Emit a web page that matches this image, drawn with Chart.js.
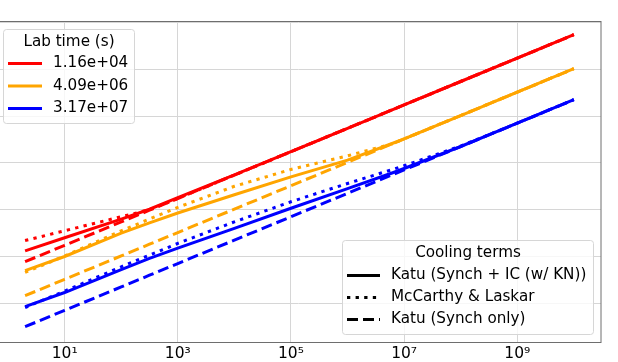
<!DOCTYPE html>
<html>
<head>
<meta charset="utf-8">
<script src="https://cdn.jsdelivr.net/npm/chart.js@4/dist/chart.umd.min.js"></script>
<style>
  html, body { margin: 0; padding: 0; background: #fff; overflow: hidden; width: 618px; height: 362px; }
  #wrap { position: absolute; left: -20px; top: 0; width: 640px; height: 362px; }
</style>
</head>
<body>
<div id="wrap"><canvas id="chart" width="640" height="362"></canvas></div>
<script>
const energies = [2, 10, 100, 316, 1e3, 1e4, 1e5, 1e6, 6.3e6, 1e7, 1e8, 1e9, 1e10];

// lab time 1.16e+04 s (red)
const katuIC_1   = [131.8, 251.2, 631, 1023, 1820, 5559, 17340, 54830, 137700, 173400, 548300, 1734000, 5483000];
const mcCarthy_1 = [218.8, 354.8, 707.9, 1000, 1738, 5483, 17340, 54830, 137700, 173400, 548300, 1734000, 5483000];
const synch_1    = [77.4, 173.4, 548, 975, 1734, 5483, 17340, 54830, 137700, 173400, 548300, 1734000, 5483000];

// lab time 4.09e+06 s (orange)
const katuIC_2   = [50.1, 100, 316.2, 524.8, 851.1, 2089, 5012, 11480, 26300, 32510, 102800, 325100, 1028000];
const mcCarthy_2 = [45.7, 102.3, 354.8, 631, 1122, 3162, 7244, 14130, 25700, 32510, 102800, 325100, 1028000];
const synch_2    = [14.52, 32.51, 102.8, 182.8, 325.1, 1028, 3251, 10280, 25820, 32510, 102800, 325100, 1028000];

// lab time 3.17e+07 s (blue)
const katuIC_3   = [8.51, 16.98, 52.48, 91.2, 151.4, 398.1, 1072, 2818, 6166, 7586, 22390, 70710, 223600];
const mcCarthy_3 = [8.13, 18.2, 60.26, 107.2, 190.5, 549.5, 1479, 3631, 7244, 8710, 22910, 70710, 223600];
const synch_3    = [3.162, 7.07, 22.36, 39.77, 70.7, 223.6, 707.1, 2236, 5617, 7071, 22360, 70710, 223600];

const labTimes = ['1.16e+04', '4.09e+06', '3.17e+07'];
const coolingTerms = ['Katu (Synch + IC (w/ KN))', 'McCarthy & Laskar', 'Katu (Synch only)'];
const xTicks = [10, 1e3, 1e5, 1e7, 1e9];
const xTickLabels = ['10\u00b9', '10\u00b3', '10\u2075', '10\u2077', '10\u2079'];
const yTicks = [10, 100, 1e3, 1e4, 1e5, 1e6, 1e7];

const colors = ['#ff0000', '#ffa500', '#0000ff'];
const styles = [[], [3.3, 5.3], [11, 5]];
const FONT = "'DejaVu Sans', sans-serif";
const SHIFT = 20;

function series(values, color, dash) {
  return {
    data: energies.map((x, i) => ({ x: x, y: values[i] })),
    borderColor: color,
    borderWidth: 3,
    borderDash: dash,
    pointRadius: 0,
    fill: false,
    tension: 0
  };
}

const groups = [
  [katuIC_1, mcCarthy_1, synch_1],
  [katuIC_2, mcCarthy_2, synch_2],
  [katuIC_3, mcCarthy_3, synch_3]
];
const datasets = [];
groups.forEach((g, t) => g.forEach((vals, k) => datasets.push(series(vals, colors[t], styles[k]))));

function roundRect(ctx, x, y, w, h, r) {
  ctx.beginPath();
  ctx.moveTo(x + r, y);
  ctx.arcTo(x + w, y, x + w, y + h, r);
  ctx.arcTo(x + w, y + h, x, y + h, r);
  ctx.arcTo(x, y + h, x, y, r);
  ctx.arcTo(x, y, x + w, y, r);
  ctx.closePath();
}

function drawLegend(ctx, box, title, rows) {
  ctx.save();
  roundRect(ctx, box.x + SHIFT, box.y, box.w, box.h, 3);
  ctx.fillStyle = 'rgba(255,255,255,0.8)';
  ctx.fill();
  ctx.strokeStyle = '#d6d6d6';
  ctx.lineWidth = 1;
  ctx.stroke();
  ctx.font = '15.2px ' + FONT;
  ctx.fillStyle = '#000';
  ctx.textBaseline = 'middle';
  ctx.textAlign = 'center';
  ctx.fillText(title, box.x + SHIFT + box.w / 2, box.titleY);
  ctx.textAlign = 'left';
  rows.forEach((r, i) => {
    const y = box.rowY[i];
    ctx.beginPath();
    ctx.setLineDash(r.dash);
    ctx.strokeStyle = r.color;
    ctx.lineWidth = 3;
    ctx.lineCap = 'butt';
    ctx.moveTo(box.lineX0 + SHIFT, y);
    ctx.lineTo(box.lineX1 + SHIFT, y);
    ctx.stroke();
    ctx.setLineDash([]);
    ctx.fillStyle = '#000';
    ctx.fillText(r.label, box.textX + SHIFT, y);
  });
  ctx.restore();
}

const extras = {
  id: 'extras',
  afterDatasetsDraw(chart) {
    const ctx = chart.ctx, a = chart.chartArea;
    ctx.save();
    ctx.strokeStyle = '#6e6e6e';
    ctx.lineWidth = 1;
    ctx.strokeRect(a.left, a.top, a.right - a.left, a.bottom - a.top);
    ctx.restore();

    drawLegend(ctx,
      { x: 3.5, y: 29.5, w: 131, h: 94, titleY: 42, rowY: [63.5, 86, 108.5], lineX0: 8, lineX1: 42, textX: 53 },
      'Lab time (s)',
      labTimes.map((l, i) => ({ label: l, color: colors[i], dash: [] })));

    drawLegend(ctx,
      { x: 342.5, y: 240.5, w: 251, h: 94, titleY: 253, rowY: [275.5, 297.5, 319.5], lineX0: 347, lineX1: 380, textX: 391 },
      'Cooling terms',
      coolingTerms.map((l, i) => ({ label: l, color: '#000', dash: styles[i] })));
  }
};

new Chart(document.getElementById('chart').getContext('2d'), {
  type: 'line',
  data: { datasets: datasets },
  plugins: [extras],
  options: {
    responsive: false,
    animation: false,
    devicePixelRatio: 1,
    layout: { padding: { left: 15.5, top: 21.5, right: 19, bottom: 0 } },
    plugins: { legend: { display: false }, tooltip: { enabled: false } },
    scales: {
      x: {
        type: 'logarithmic',
        min: Math.pow(10, -0.189),
        max: Math.pow(10, 10.48),
        border: { display: false },
        grid: { color: '#d6d6d6', lineWidth: 1, drawTicks: false },
        afterBuildTicks: s => { s.ticks = xTicks.map(v => ({ value: v })); },
        afterFit: s => { s.height = 19.5; },
        ticks: {
          color: '#000',
          padding: 2,
          maxRotation: 0,
          font: { family: FONT, size: 15.5 },
          callback: v => xTickLabels[xTicks.indexOf(v)] || ''
        }
      },
      y: {
        type: 'logarithmic',
        min: Math.pow(10, 0.1624),
        max: Math.pow(10, 7.021),
        border: { display: false },
        grid: { color: '#d6d6d6', lineWidth: 1, drawTicks: false },
        afterBuildTicks: s => { s.ticks = yTicks.map(v => ({ value: v })); },
        afterFit: s => { s.width = 0; },
        ticks: { display: false }
      }
    }
  }
});
</script>
</body>
</html>
